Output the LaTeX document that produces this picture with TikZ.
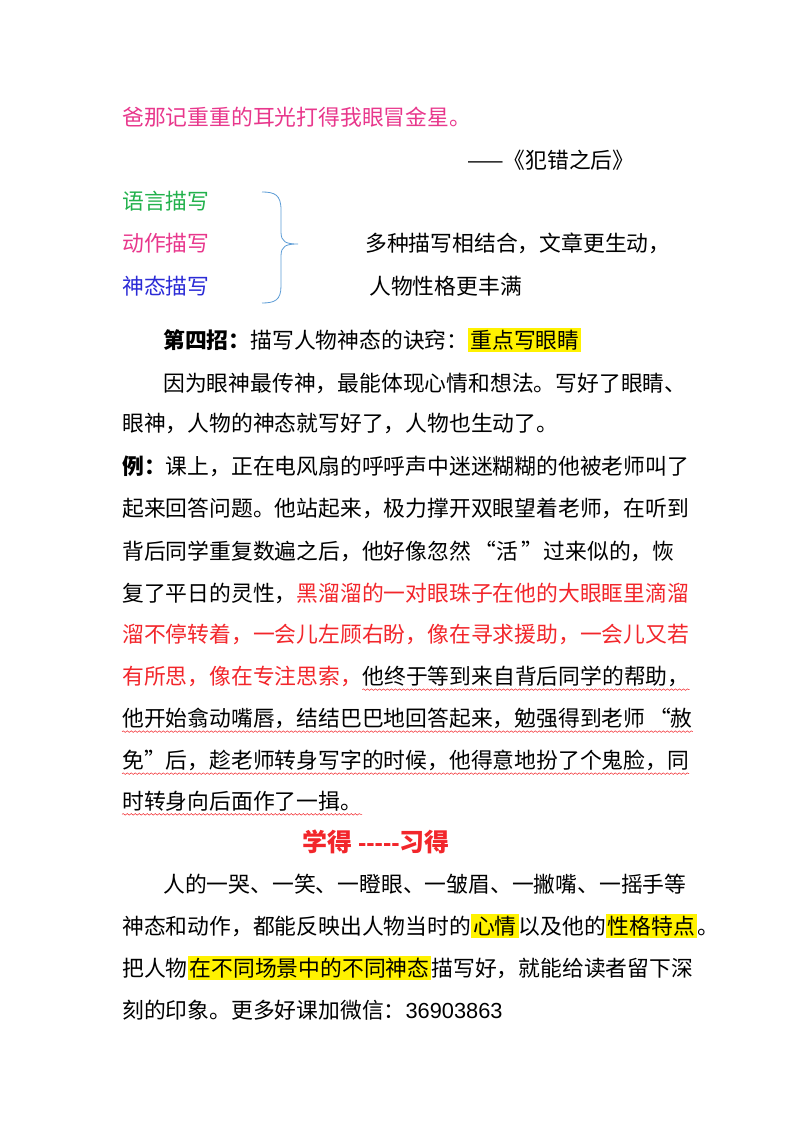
\documentclass[tikz,border=0pt]{standalone}
\usepackage{fontspec}
\setmainfont{Noto Sans CJK SC}
\newfontfamily\latinf{Liberation Sans}
\usetikzlibrary{decorations.pathmorphing}
\definecolor{pinkc}{HTML}{E8378C}
\definecolor{greenc}{HTML}{22B14C}
\definecolor{bluec}{HTML}{2B2BD6}
\definecolor{bracec}{HTML}{5B9BD5}
\definecolor{redc}{HTML}{F2262B}
\newcommand{\hlt}[1]{{\setlength{\fboxsep}{2pt}\colorbox{yellow}{#1}}}
\tikzset{
  ln/.style={anchor=west,inner sep=0pt,font=\fontsize{21.8}{21.8}\selectfont},
  wavy/.style={draw=redc,line width=0.5pt,decorate,decoration={snake,amplitude=0.8pt,segment length=4pt}}
}
\begin{document}
\begin{tikzpicture}[x=1pt,y=-1pt]
\useasboundingbox (0,0) rectangle (800,1132);
\node[ln,text=pinkc] (l1) at (122,117) {爸那记重重的耳光打得我眼冒金星。};
\node[ln] (src) at (467,160) {——《犯错之后》};
\node[ln,text=greenc] (a) at (122,201) {语言描写};
\node[ln,text=pinkc] (b) at (122,243) {动作描写};
\node[ln,text=bluec] (c) at (122,286) {神态描写};
\coordinate (bt) at (262,192);
\coordinate (bb) at (262,303);
\coordinate (bm) at (298,244);
\draw[bracec,line width=0.8pt] (bt) .. controls (275,192) and (281,195) .. (281,210) -- (281,232) .. controls (281,242) and (286,244) .. (bm)
  .. controls (286,244) and (281,246) .. (281,256) -- (281,286) .. controls (281,300) and (275,303) .. (bb);
\node[ln] (r1) at (365,243) {多种描写相结合，文章更生动，};
\node[ln] (r2) at (369,286) {人物性格更丰满};
\node[ln] (h4) at (163,340) {\textbf{第四招：}描写人物神态的诀窍：\hlt{重点写眼睛}};
\node[ln] (p1) at (163,383) {因为眼神最传神，最能体现心情和想法。写好了眼睛、};
\node[ln] (p2) at (122,423) {眼神，人物的神态就写好了，人物也生动了。};
\node[ln] (e1) at (122,466) {\textbf{例：}课上，正在电风扇的呼呼声中迷迷糊糊的他被老师叫了};
\node[ln] (e2) at (122,508) {起来回答问题。他站起来，极力撑开双眼望着老师，在听到};
\node[ln] (e3) at (122,551) {背后同学重复数遍之后，他好像忽然\,“活\,”过来似的，恢};
\node[ln] (e4) at (122,593) {复了平日的灵性，\textcolor{redc}{黑溜溜的一对眼珠子在他的大眼眶里滴溜}};
\node[ln,text=redc] (e5) at (122,634) {溜不停转着，一会儿左顾右盼，像在寻求援助，一会儿又若};
\node[ln,text=redc] (e6a) at (122,676) {有所思，像在专注思索，};
\node[ln] (e6b) at (e6a.east) {他终于等到来自背后同学的帮助，};
\node[ln] (e7) at (122,718) {他开始翕动嘴唇，结结巴巴地回答起来，勉强得到老师\,“赦};
\node[ln] (e8) at (122,760) {免”后，趁老师转身写字的时候，他得意地扮了个鬼脸，同};
\node[ln] (e9) at (122,801) {时转身向后面作了一揖。};
\foreach \n in {e6b,e7,e8,e9}{
  \draw[wavy] ([yshift=-3pt]\n.south west) -- ([yshift=-3pt]\n.south east);
}
\node[inner sep=0pt,text=redc,font=\fontsize{25}{25}\selectfont\bfseries] (t) at (376,842) {学得\ {\latinf\bfseries -{}-{}-{}-{}-}习得};
\node[ln] (q1) at (163,884) {人的一哭、一笑、一瞪眼、一皱眉、一撇嘴、一摇手等};
\node[ln] (q2) at (122,926) {神态和动作，都能反映出人物当时的\hlt{心情}以及他的\hlt{性格特点}。};
\node[ln] (q3) at (122,968) {把人物\hlt{在不同场景中的不同神态}描写好，就能给读者留下深};
\node[ln] (q4) at (122,1010) {刻的印象。更多好课加微信：{\latinf 36903863}};
\end{tikzpicture}
\end{document}
